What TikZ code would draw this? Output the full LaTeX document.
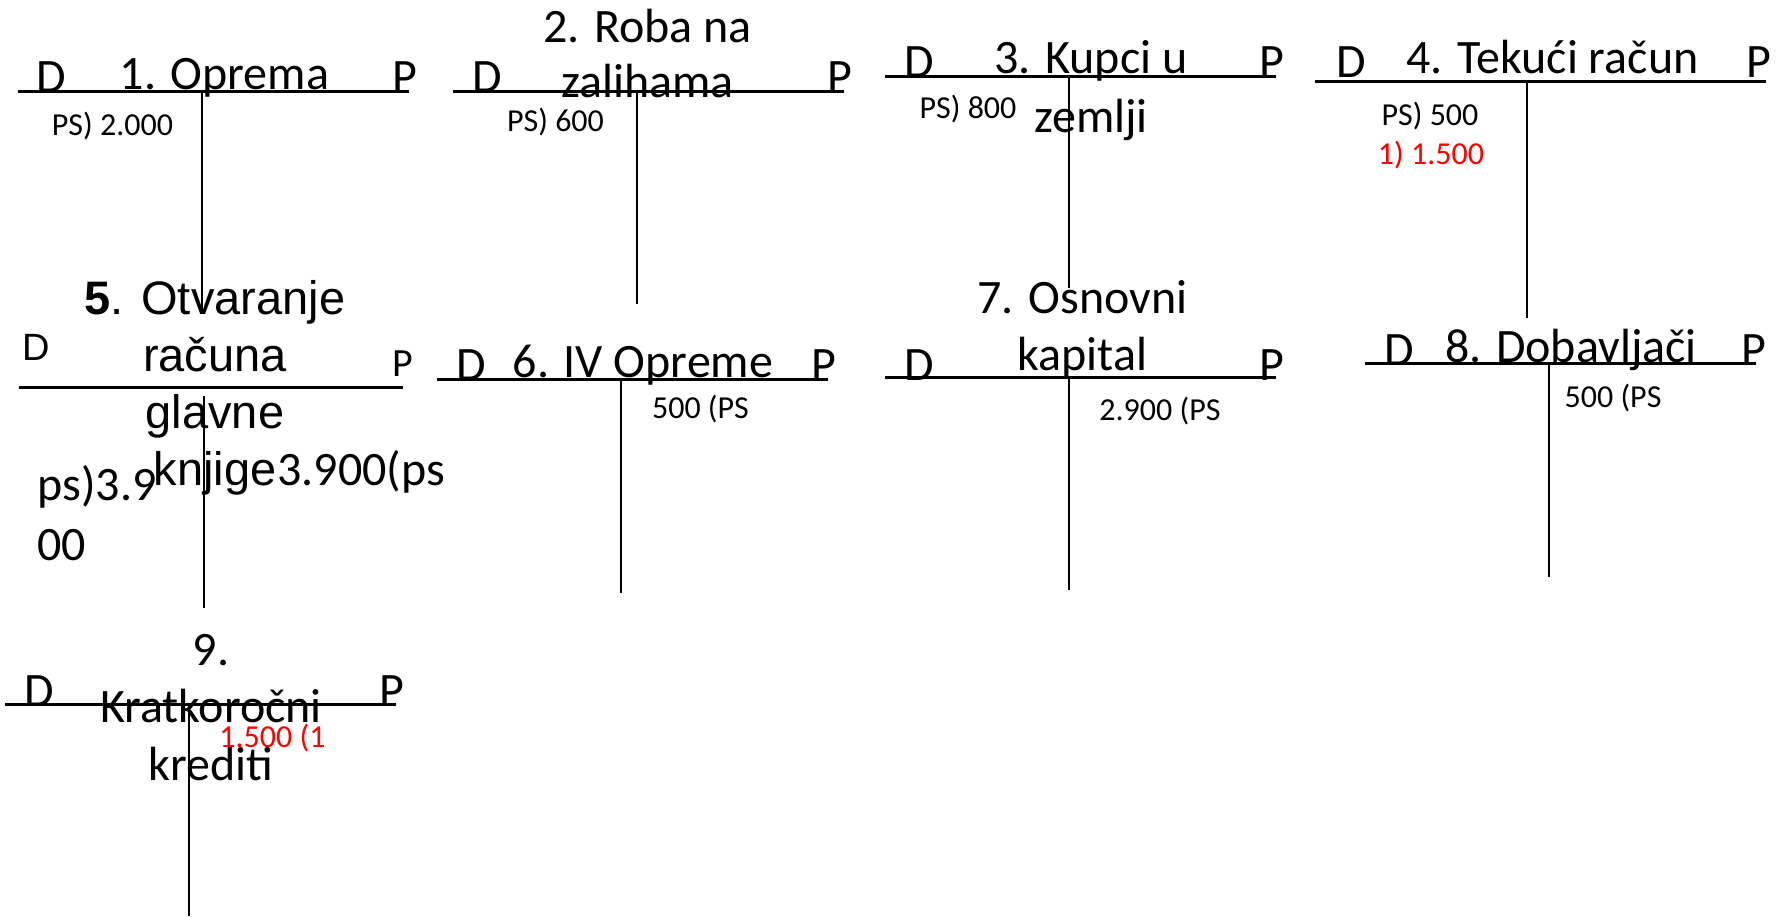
\documentclass[tikz,border=0pt]{standalone}
\usepackage{fontspec}
\setmainfont{Carlito}
\newfontfamily\arialfont{Liberation Sans}
\definecolor{entryred}{RGB}{255,0,0}
\begin{document}
\begin{tikzpicture}[x=0.5pt,y=-0.5pt]

    \tikzset{
      title/.style={
        anchor=base,
        inner sep=0pt,
        align=center,
        font=\fontsize{24}{28.5}\selectfont,
      },
      side/.style={anchor=base, inner sep=0pt, font=\fontsize{24}{28.8}\selectfont},
      entry/.style={anchor=base, inner sep=0pt, font=\fontsize{16}{19.2}\selectfont},
      hline/.style={color={black}, line width=1.5pt},
      vline/.style={color={black}, line width=1pt},
    }
    \useasboundingbox (0,0) rectangle (1787,916);

    % 1. Oprema
	\draw[hline] (18,91)--(409,91);
	\draw[vline] (202,91)--(202,313);
	\node[title] (t1) at (224.5,89) {1. Oprema};
	\node[side] (d1) at (51.5,92) {D};
	\node[side] (p1) at (405,92) {P};
	\node[entry] (e1) at (112.5,135) {PS) 2.000};

    % 2. Roba na zalihama
	\draw[hline] (453,91)--(844,91);
	\draw[vline] (637,91)--(637,304);
	\node[title, font=\fontsize{24}{27.5}\selectfont] (t2) at (647.5,97) {2. Roba na\\zalihama};
	\node[side] (d2) at (487,92) {D};
	\node[side] (p2) at (839.5,92) {P};
	\node[entry] (e2) at (555.5,131) {PS) 600};

    % 3. Kupci u zemlji
	\draw[hline] (885,76)--(1276,76);
	\draw[vline] (1069,76)--(1069,288);
	\node[title, font=\fontsize{24}{29.5}\selectfont] (t3) at (1091,132) {3. Kupci u\\zemlji};
	\node[side] (d3) at (919,77) {D};
	\node[side] (p3) at (1272,77) {P};
	\node[entry] (e3) at (968,118) {PS) 800};

    % 4. Tekuci racun
	\draw[hline] (1315,81)--(1766,81);
	\draw[vline] (1527,81)--(1527,318);
	\node[title] (t4) at (1552.5,73) {4. Tekući račun};
	\node[side] (d4) at (1351,77) {D};
	\node[side] (p4) at (1758.5,77) {P};
	\node[entry] (e4) at (1430,125) {PS) 500};
	\node[entry, color=entryred] (e4b) at (1431,164) {1) 1.500};

    % 5. Otvaranje racuna glavne knjige
	\draw[hline] (19,387)--(403,387);
	\draw[vline] (204,396)--(204,608);
	\node[title, font=\arialfont\fontsize{23.5}{28.5}\selectfont] (t5) at (215,485) {\textbf{5}. Otvaranje\\računa\\glavne\\knjige};
	\node[side, font=\arialfont\fontsize{19}{22}\selectfont] (d5) at (36.5,360) {D};
	\node[side, font=\fontsize{20}{24}\selectfont] (p5) at (403,376) {P};
	\node[side, anchor=base west] (e5) at (277,485) {3.900(ps};
	\node[side, anchor=base west, align=left, font=\fontsize{24}{30}\selectfont] (e5b) at (37,560) {ps)3.9\\00};

    % 6. IV Opreme
	\draw[hline] (437,379)--(828,379);
	\draw[vline] (621,379)--(621,593);
	\node[title] (t6) at (643,377) {6. IV Opreme};
	\node[side] (d6) at (471.5,380) {D};
	\node[side] (p6) at (824,380) {P};
	\node[entry] (e6) at (700.5,418) {500 (PS};

    % 7. Osnovni kapital
	\draw[hline] (885,377)--(1276,377);
	\draw[vline] (1069,377)--(1069,590);
	\node[title] (t7) at (1082.5,370) {7. Osnovni\\kapital};
	\node[side] (d7) at (919,380) {D};
	\node[side] (p7) at (1271.5,380) {P};
	\node[entry] (e7) at (1160,420) {2.900 (PS};

    % 8. Dobavljaci
	\draw[hline] (1365,363)--(1756,363);
	\draw[vline] (1549,363)--(1549,577);
	\node[title] (t8) at (1571,362) {8. Dobavljači};
	\node[side] (d8) at (1399,365) {D};
	\node[side] (p8) at (1753.5,365) {P};
	\node[entry] (e8) at (1613,407) {500 (PS};

    % 9. Kratkorocni krediti
	\draw[hline] (5,704)--(396,704);
	\draw[vline] (189,704)--(189,916);
	\node[title, font=\fontsize{24}{28.75}\selectfont] (t9) at (211,780) {9.\\Kratkoročni\\krediti};
	\node[side] (d9) at (39,706) {D};
	\node[side] (p9) at (391.5,706) {P};
	\node[entry, color=entryred] (e9) at (272.5,747) {1.500 (1};

\end{tikzpicture}
\end{document}
